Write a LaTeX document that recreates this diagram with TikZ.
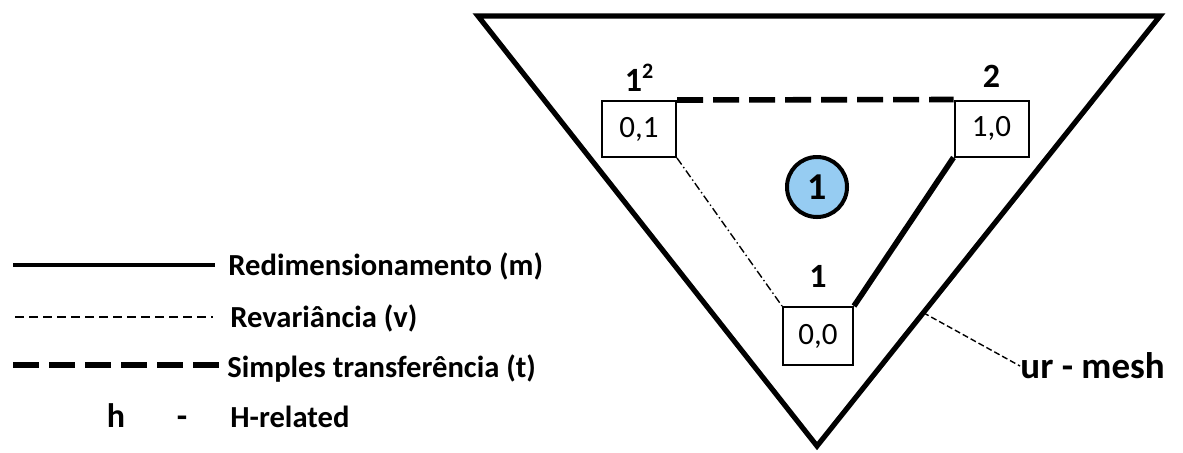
\documentclass[tikz,border=0pt]{standalone}
\usepackage{fontspec}
\setmainfont{Carlito}
\usepackage{tikz}
\usetikzlibrary{positioning,calc}
\definecolor{faceblue}{RGB}{150,204,242}
\tikzset{
    mesh/.style={line width=2.6pt, line join=miter},
    cell/.style={rectangle, draw, line width=1pt, minimum width=37pt, minimum height=28pt, inner sep=0, font=\fontsize{15.5}{18}\selectfont},
    vlbl/.style={inner sep=0, font=\bfseries\fontsize{17}{20}\selectfont},
    face/.style={circle, draw, line width=2pt, fill=faceblue, minimum size=30pt, inner sep=0, font=\bfseries\fontsize{19}{22}\selectfont},
    resize/.style={line width=2.8pt},
    revar/.style={line width=0.7pt, dash pattern=on 4pt off 1.5pt on 0.7pt off 1.5pt},
    revarleg/.style={line width=0.9pt, dash pattern=on 4.5pt off 2.5pt},
    transfer/.style={line width=2.8pt, dash pattern=on 13pt off 5pt},
    leader/.style={line width=0.7pt, dash pattern=on 3pt off 1.5pt},
    legtxt/.style={anchor=base west, inner sep=0, font=\bfseries\fontsize{15.3}{18}\selectfont},
}

\begin{document}
\begin{tikzpicture}[x=0.5pt, y=-0.5pt]
    \useasboundingbox (0,0) rectangle (1183,452);

    \coordinate (tl) at (478,16);
    \coordinate (tr) at (1160,16);
    \coordinate (ap) at (817,446);
    \draw[mesh] (tl) -- (tr) -- (ap) -- cycle;

    \node[cell] (b01) at (639,129) {0,1};
    \node[cell] (b10) at (991.5,128.5) {1,0};
    \node[cell, minimum width=35pt, minimum height=29pt] (b00) at (818,336) {0,0};
    \node[vlbl, above=4pt of b01] (v01) {1\raisebox{0.4em}{\fontsize{11}{12}\selectfont 2}};
    \node[vlbl, above=6pt of b10] (v10) {2};
    \node[vlbl, above=9pt of b00] (v00) {1};
    \node[face] (f1) at (817,187) {1};

    \draw[transfer] (b01.north east) -- (b10.north west);
    \draw[resize] (b10.south west) -- (b00.north east);
    \draw[revar] (b01.south east) -- (b00.north west);

    \coordinate (lp) at ($(tr)!0.69!(ap)$);
    \node[legtxt, anchor=west, font=\bfseries\fontsize{18.5}{22}\selectfont] (um) at (1020,366) {ur - mesh};
    \draw[leader] (lp) -- (um.west);

    \node[legtxt] (lm) at (228,275) {Redimensionamento (m)};
    \node[legtxt] (lv) at (230,327) {Revariância (v)};
    \node[legtxt] (lt) at (227,377) {Simples transferência (t)};
    \node[legtxt] (lh) at (230,427) {H-related};
    \node[vlbl, anchor=base] (hh) at (116,427) {h};
    \node[vlbl, anchor=base] (hd) at (182,427) {-};
    \coordinate (m0) at (13,265);
    \coordinate (m1) at (215,265);
    \coordinate (v0) at (15,317);
    \coordinate (v1) at (213,317);
    \coordinate (t0) at (13,365);
    \coordinate (t1) at (222,365);
    \draw[resize, line width=2.4pt] (m0) -- (m1);
    \draw[revarleg] (v0) -- (v1);
    \draw[transfer] (t0) -- (t1);
\end{tikzpicture}
\end{document}
